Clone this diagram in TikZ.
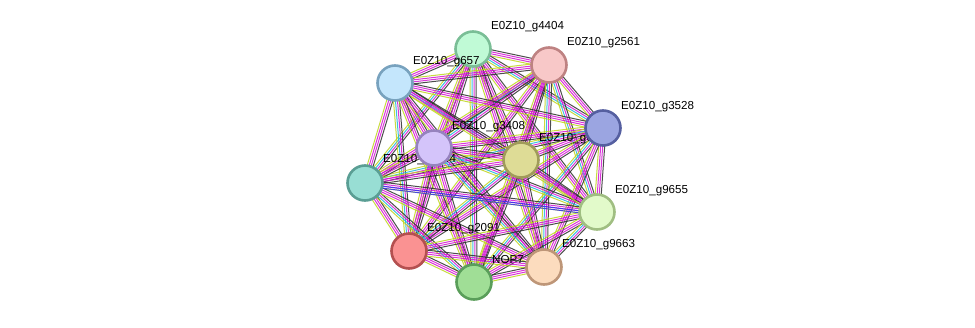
\documentclass[tikz,border=0pt]{standalone}
\usepackage{fontspec}
\setmainfont{Liberation Sans}
\usepackage{xcolor}
\usetikzlibrary{calc}
\pgfdeclarelayer{background}
\pgfsetlayers{background,main}

\definecolor{evblack}{RGB}{45,45,45}
\definecolor{evmagenta}{RGB}{210,20,210}
\definecolor{evlime}{RGB}{190,212,30}
\definecolor{evcyan}{RGB}{30,180,220}
\definecolor{evblue}{RGB}{50,50,240}

\newcommand{\stringedge}[3]{%
  \foreach \ecol [count=\ei] in #3 {
    \pgfmathsetmacro{\eoff}{2*\ei-5}
    \draw[\ecol, line width=1pt, opacity=0.85]
      ($(#1)!\eoff pt!90:(#2)$) -- ($(#2)!\eoff pt!-90:(#1)$);
  }}

\begin{document}
\begin{tikzpicture}[x=1pt, y=-1pt,
    protein/.style={circle, minimum size=35pt, line width=2.6pt, inner sep=0pt},
    plabel/.style={anchor=west, inner sep=0pt, font=\fontsize{11.6}{13}\selectfont}]
  \useasboundingbox (0,0) rectangle (975,327);

  \node[protein, fill={rgb,255:red,192;green,250;blue,214}, draw={rgb,255:red,122;green,190;blue,150}] (n4404) at (473,49) {};
  \node[plabel] at (491,27)  {E0Z10\_g4404};
  \node[protein, fill={rgb,255:red,248;green,200;blue,200}, draw={rgb,255:red,190;green,130;blue,130}] (n2561) at (549,65) {};
  \node[plabel] at (567,43)  {E0Z10\_g2561};
  \node[protein, fill={rgb,255:red,196;green,230;blue,252}, draw={rgb,255:red,120;green,162;blue,190}] (n657) at (395,83) {};
  \node[plabel] at (413,62)  {E0Z10\_g657};
  \node[protein, fill={rgb,255:red,152;green,222;blue,212}, draw={rgb,255:red,90;green,158;blue,148}] (n2044) at (365,183) {};
  \node[plabel] at (383,160) {E0Z10\_g2044};
  \node[protein, fill={rgb,255:red,212;green,196;blue,250}, draw={rgb,255:red,150;green,130;blue,190}] (n3408) at (434,148) {};
  \node[plabel] at (452,127) {E0Z10\_g3408};
  \node[protein, fill={rgb,255:red,222;green,220;blue,150}, draw={rgb,255:red,160;green,155;blue,90}] (n6921) at (521,160) {};
  \node[plabel] at (539,139) {E0Z10\_g6921};
  \node[protein, fill={rgb,255:red,155;green,165;blue,225}, draw={rgb,255:red,85;green,95;blue,160}] (n3528) at (603,128) {};
  \node[plabel] at (621,107) {E0Z10\_g3528};
  \node[protein, fill={rgb,255:red,226;green,250;blue,202}, draw={rgb,255:red,160;green,190;blue,130}] (n9655) at (597,212) {};
  \node[plabel] at (615,191) {E0Z10\_g9655};
  \node[protein, fill={rgb,255:red,250;green,146;blue,146}, draw={rgb,255:red,180;green,80;blue,80}] (n2091) at (409,251) {};
  \node[plabel] at (427,229) {E0Z10\_g2091};
  \node[protein, fill={rgb,255:red,160;green,222;blue,150}, draw={rgb,255:red,90;green,158;blue,90}] (nop7) at (474,282) {};
  \node[plabel] at (492,260) {NOP7};
  \node[protein, fill={rgb,255:red,252;green,220;blue,190}, draw={rgb,255:red,190;green,150;blue,120}] (n9663) at (544,267) {};
  \node[plabel] at (562,245) {E0Z10\_g9663};

  \begin{pgfonlayer}{background}
    \foreach \a [count=\i] in {n4404,n2561,n657,n3528,n3408,n6921,n2044,n9655,n2091,nop7,n9663} {
      \foreach \b [count=\j] in {n4404,n2561,n657,n3528,n3408,n6921,n2044,n9655,n2091,nop7,n9663} {
        \ifnum\j>\i
          \pgfmathtruncatemacro{\k}{mod(\i+2*\j,3)}
          \ifnum\k=0
            \stringedge{\a}{\b}{{evlime,evcyan,evmagenta,evblack}}
          \else
            \stringedge{\a}{\b}{{evlime,evmagenta,evmagenta,evblack}}
          \fi
        \fi
      }
    }
    \stringedge{n2044}{n9655}{{evblue,evblue}}
  \end{pgfonlayer}
\end{tikzpicture}
\end{document}
